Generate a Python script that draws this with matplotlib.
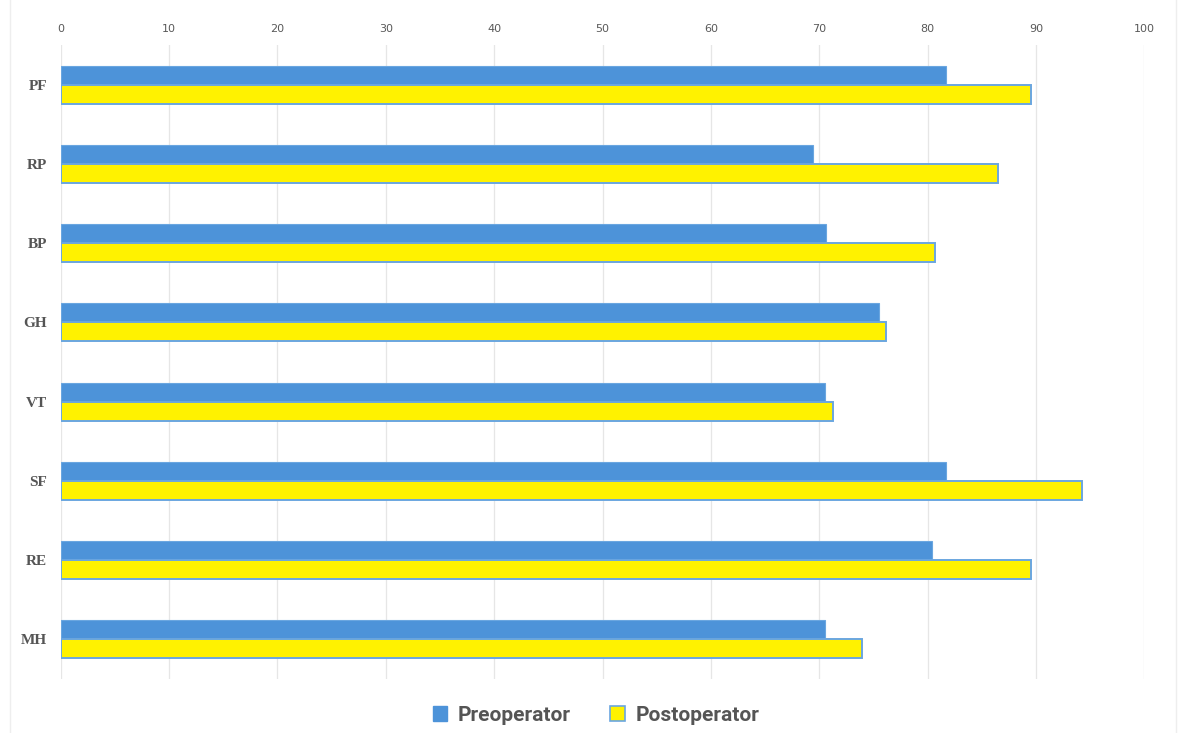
import matplotlib
matplotlib.use("Agg")
import matplotlib.pyplot as plt
from matplotlib.patches import Patch
from matplotlib.lines import Line2D
import numpy as np

categories = ["PF", "RP", "BP", "GH", "VT", "SF", "RE", "MH"]
preoperator = [81.7, 69.4, 70.6, 75.5, 70.5, 81.7, 80.4, 70.5]
postoperator = [89.5, 86.5, 80.7, 76.2, 71.3, 94.2, 89.5, 73.9]
x_ticks = list(range(0, 101, 10))

blue = "#4d93d9"
yellow = "#fff200"
edge_blue = "#6aa6e0"

fig = plt.figure(figsize=(11.85, 7.33), dpi=100)
ax = fig.add_axes([0.0512, 0.0737, 0.9145, 0.8649])

y = np.arange(len(categories))
h = 0.24
ax.barh(y - h / 2, preoperator, height=h, color=blue, edgecolor=edge_blue,
        linewidth=0.8, zorder=3)
ax.barh(y + h / 2, postoperator, height=h, color=yellow, edgecolor=edge_blue,
        linewidth=1.4, zorder=3)

ax.set_xlim(0, 100)
ax.set_ylim(len(categories) - 0.5, -0.5)
ax.set_xticks(x_ticks)
ax.set_yticks(y)
ax.set_yticklabels(categories, fontfamily="Liberation Serif", fontweight="bold",
                   fontsize=11, color="#555555")
ax.xaxis.tick_top()
ax.tick_params(axis="x", length=0, pad=8, labelsize=8, labelcolor="#595959")
ax.tick_params(axis="y", length=0, pad=10)
for lbl in ax.get_xticklabels():
    lbl.set_fontfamily("DejaVu Sans")
ax.grid(axis="x", color="#e6e6e6", linewidth=0.9, zorder=0)
ax.grid(axis="y", visible=False)
for s in ax.spines.values():
    s.set_visible(False)

# faint chart-area frame lines on the sides
fig.add_artist(Line2D([10 / 1185, 10 / 1185], [0, 1], color="#eeeeee", linewidth=1.0))
fig.add_artist(Line2D([1176 / 1185, 1176 / 1185], [0, 1], color="#eeeeee", linewidth=1.0))

handles = [
    Patch(facecolor=blue, edgecolor=blue, label="Preoperator"),
    Patch(facecolor=yellow, edgecolor=edge_blue, linewidth=1.2, label="Postoperator"),
]
fig.legend(handles=handles, loc="center", bbox_to_anchor=(0.503, 0.024),
           ncol=2, frameon=False, handlelength=0.7, handleheight=0.7,
           handletextpad=0.5, columnspacing=1.9,
           prop={"family": "Roboto", "weight": "bold", "size": 15},
           labelcolor="#555555")

fig.savefig("out.png", dpi=100, facecolor="white")
